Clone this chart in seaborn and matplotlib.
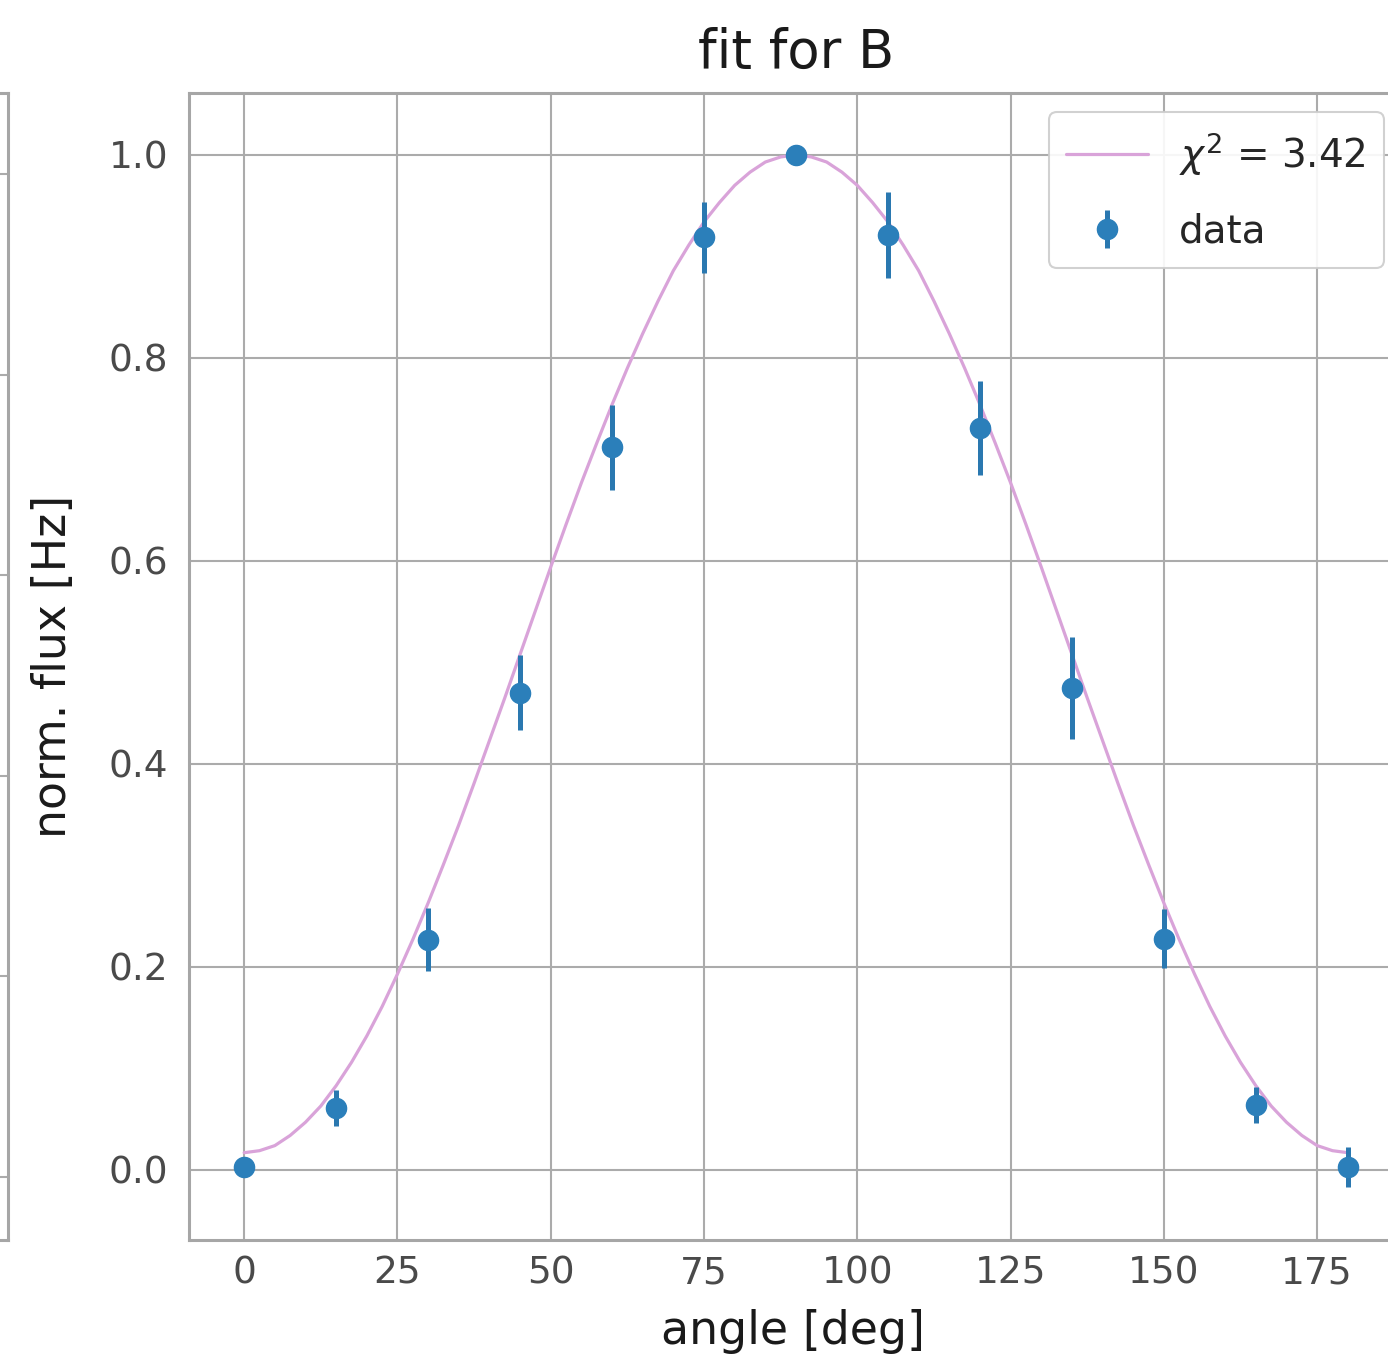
import numpy as np
import pandas as pd
import matplotlib
matplotlib.use("Agg")
import matplotlib.pyplot as plt
import seaborn as sns

# ---- data ----
angles = [0, 15, 30, 45, 60, 75, 90, 105, 120, 135, 150, 165, 180]
flux = [0.003, 0.061, 0.227, 0.470, 0.712, 0.919, 1.000, 0.921, 0.731, 0.475, 0.228, 0.064, 0.003]
flux_err = [0.008, 0.018, 0.031, 0.037, 0.042, 0.035, 0.005, 0.042, 0.046, 0.050, 0.029, 0.018, 0.020]

fit_angles = [0, 2.5, 5, 7.5, 10, 12.5, 15, 17.5, 20, 22.5, 25, 27.5, 30, 32.5, 35, 37.5,
              40, 42.5, 45, 47.5, 50, 52.5, 55, 57.5, 60, 62.5, 65, 67.5, 70, 72.5, 75,
              77.5, 80, 82.5, 85, 87.5, 90,
              92.5, 95, 97.5, 100, 102.5, 105, 107.5, 110, 112.5, 115, 117.5, 120, 122.5,
              125, 127.5, 130, 132.5, 135, 137.5, 140, 142.5, 145, 147.5, 150, 152.5, 155,
              157.5, 160, 162.5, 165, 167.5, 170, 172.5, 175, 177.5, 180]
fit_flux = [0.017, 0.019, 0.024, 0.034, 0.047, 0.063, 0.083, 0.106, 0.132, 0.161, 0.193,
            0.227, 0.263, 0.301, 0.340, 0.381, 0.423, 0.465, 0.508, 0.551, 0.594, 0.636,
            0.677, 0.716, 0.754, 0.790, 0.824, 0.856, 0.886, 0.911, 0.934, 0.953, 0.970,
            0.983, 0.993, 0.998, 1.000,
            0.998, 0.993, 0.983, 0.970, 0.953, 0.934, 0.911, 0.886, 0.856, 0.824, 0.790,
            0.754, 0.716, 0.677, 0.636, 0.594, 0.551, 0.508, 0.465, 0.423, 0.381, 0.340,
            0.301, 0.263, 0.227, 0.193, 0.161, 0.132, 0.106, 0.083, 0.063, 0.047, 0.034,
            0.024, 0.019, 0.017]

chi2_label = r"$\chi^2$ = 3.42"
title = "fit for B"
xlabel = "angle [deg]"
ylabel = "norm. flux [Hz]"
xticks = [0, 25, 50, 75, 100, 125, 150, 175]
yticks = [0.0, 0.2, 0.4, 0.6, 0.8, 1.0]

fit_df = pd.DataFrame({"angle": fit_angles, "flux": fit_flux})

sns.set_theme(style="whitegrid")
plt.rcParams["font.family"] = ["DejaVu Sans"]

W, H = 1388, 1363
fig = plt.figure(figsize=(W / 100, H / 100), dpi=100)

grid_c = "#ababab"
spine_c = "#a6a6a6"
tick_c = "#4a4a4a"

# main axes (extends slightly past the right edge of the figure)
left_px, right_px, top_px, bot_px = 189, 1403, 93, 1240
ax = fig.add_axes([left_px / W, (H - bot_px) / H, (right_px - left_px) / W, (bot_px - top_px) / H])

# partially visible neighbouring panel on the left
ax0 = fig.add_axes([-600 / W, (H - bot_px) / H, 608 / W, (bot_px - top_px) / H])
ax0.set_ylim(-0.063, 1.081)
ax0.set_yticks(yticks)
ax0.set_xticks([])
ax0.tick_params(labelleft=False, left=False)
ax0.grid(True, color=grid_c, linewidth=1.5)
for s in ax0.spines.values():
    s.set_color(spine_c)
    s.set_linewidth(2.2)

sns.lineplot(data=fit_df, x="angle", y="flux", ax=ax, color="#d9a3d9",
             linewidth=2.3, label=chi2_label, zorder=2)
ax.errorbar(angles, flux, yerr=flux_err, fmt="o", color="#2b7fba",
            ecolor="#2a78b0", markersize=14.5, elinewidth=3.6, capsize=0,
            label="data", zorder=3)

ax.set_xlim(-9, 189)
ax.set_ylim(-0.069, 1.061)
ax.set_xticks(xticks)
ax.set_yticks(yticks)
ax.set_yticklabels([f"{v:.1f}" for v in yticks])
ax.grid(True, color=grid_c, linewidth=1.5)
for s in ax.spines.values():
    s.set_color(spine_c)
    s.set_linewidth(2.2)
ax.tick_params(axis="x", labelsize=27, colors=tick_c, pad=11, length=0)
ax.tick_params(axis="y", labelsize=27, colors=tick_c, pad=15, length=0)

ax.set_title(title, fontsize=38, color="#1a1a1a", pad=18)
ax.set_xlabel(xlabel, fontsize=33, color="#1a1a1a")
ax.set_ylabel(ylabel, fontsize=33, color="#1a1a1a")
ax.xaxis.set_label_coords((793 - left_px) / (right_px - left_px), -0.060)
ax.yaxis.set_label_coords(-0.093, 0.5)

leg = ax.legend(loc="upper right", fontsize=28, frameon=True, handlelength=2.1,
                labelspacing=0.9, borderpad=0.45, handletextpad=0.8, framealpha=0.9)
leg.get_frame().set_edgecolor("#cccccc")
leg.get_frame().set_linewidth(1.5)

fig.savefig("out.png", dpi=100)
